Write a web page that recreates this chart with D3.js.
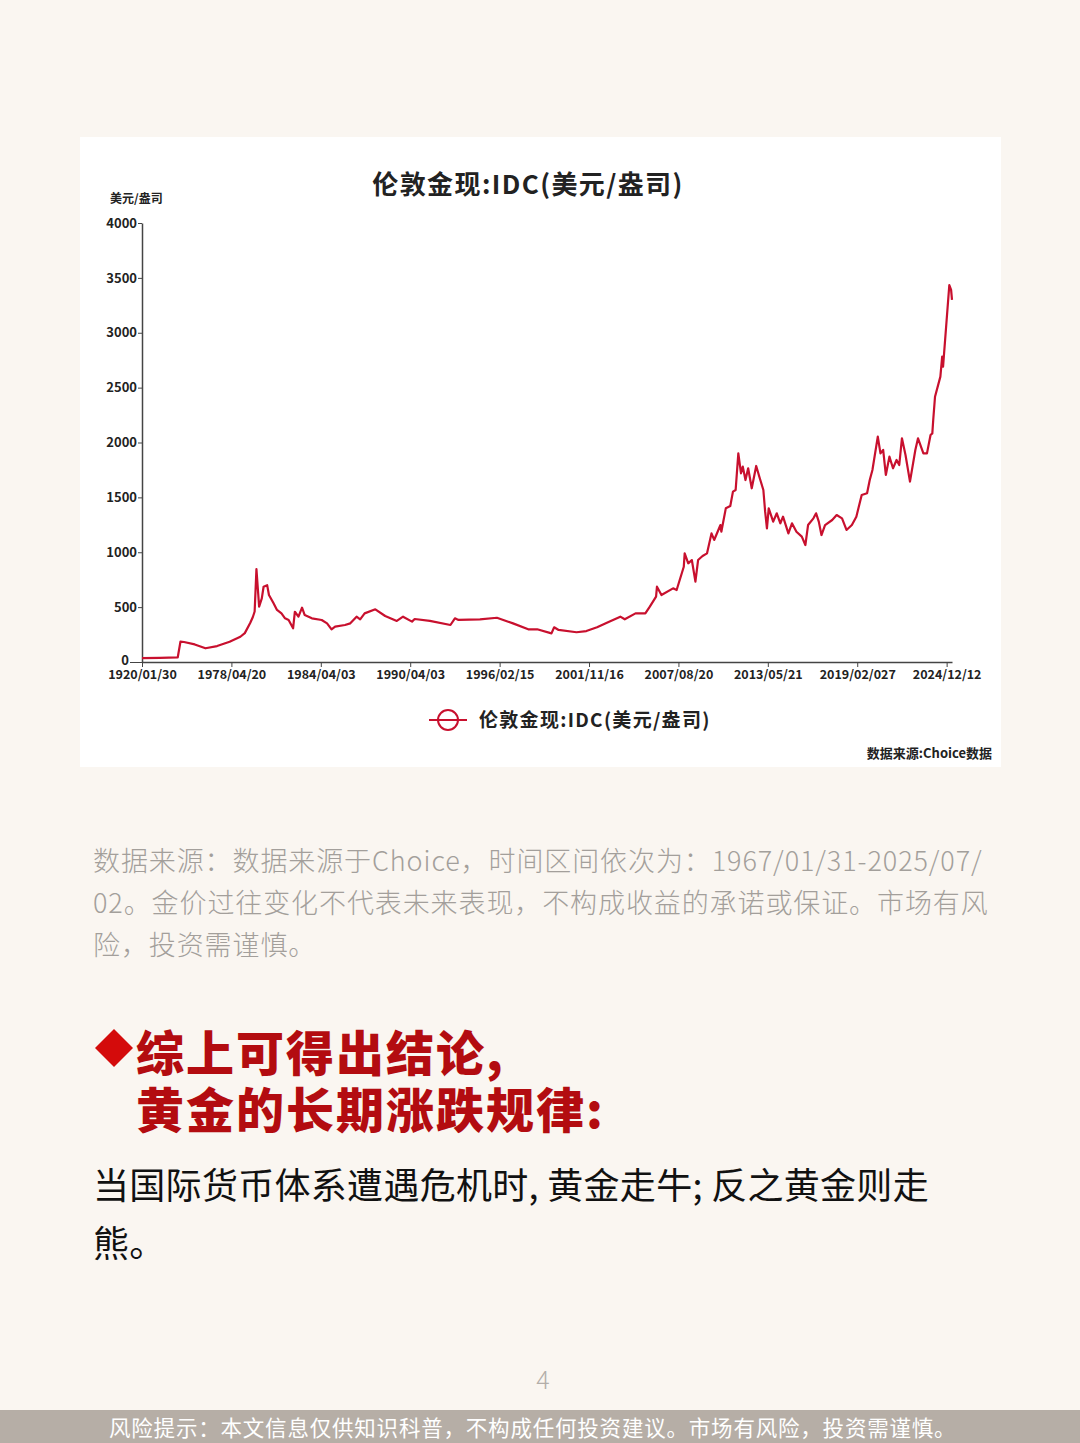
<!DOCTYPE html>
<html>
<head>
<meta charset="utf-8">
<script src="https://cdn.jsdelivr.net/npm/d3@7"></script>
<style>
  html, body { margin: 0; padding: 0; background: #faf6f1; }
  svg { display: block; font-family: "Noto Sans CJK SC", "Noto Sans", sans-serif; }
</style>
</head>
<body>
<div id="chart"></div>
<script>
// 伦敦金现 IDC 走势 — 横轴按数据序号等距排列
const tickIdx = [0, 100, 200, 300, 400, 500, 600, 700, 800, 900];
const tickLabels = ["1920/01/30", "1978/04/20", "1984/04/03", "1990/04/03", "1996/02/15",
  "2001/11/16", "2007/08/20", "2013/05/21", "2019/02/027", "2024/12/12"];
const yTicks = [0, 500, 1000, 1500, 2000, 2500, 3000, 3500, 4000];

// 序号（数据点位置）与价格（美元/盎司）
const idx = [0, 20, 40, 43, 47, 59, 71, 84, 98, 110, 115, 121, 124, 126, 128, 130, 131, 134, 136, 140,
  142, 147, 151, 156, 160, 164, 169, 171, 175, 179, 182, 190, 201, 207, 212, 216, 227, 233, 240, 244,
  249, 261, 272, 285, 292, 302, 305, 322, 345, 350, 354, 378, 397, 415, 432, 442, 458, 461, 466, 486,
  497, 509, 520, 535, 540, 552, 563, 568, 575, 576, 581, 594, 598, 606, 607, 611, 615, 619, 622, 627,
  632, 637, 640, 647, 648, 653, 658, 661, 664, 667, 670, 672, 675, 678, 682, 687, 691, 695, 697, 699,
  701, 706, 710, 714, 717, 723, 727, 732, 738, 742, 745, 751, 754, 757, 760, 764, 772, 777, 783, 788,
  794, 799, 805, 811, 814, 817, 823, 826, 829, 832, 836, 840, 844, 847, 850, 854, 859, 865, 868, 874,
  878, 882, 884, 885, 887, 893, 895, 896, 900, 903, 905, 906];
const price = [35, 38, 43, 185, 182, 160, 125, 145, 185, 230, 263, 355, 410, 460, 847, 620, 504, 580, 686, 700,
  610, 537, 474, 443, 398, 383, 307, 458, 413, 495, 428, 398, 383, 352, 298, 322, 337, 352, 413, 389,
  443, 480, 419, 374, 413, 368, 392, 374, 337, 398, 383, 389, 403, 352, 298, 298, 261, 316, 292, 271,
  282, 316, 358, 413, 389, 443, 443, 504, 595, 686, 610, 671, 656, 868, 990, 899, 929, 732, 929, 966,
  990, 1172, 1112, 1248, 1187, 1400, 1421, 1552, 1567, 1901, 1719, 1780, 1658, 1765, 1583, 1786, 1674, 1567, 1370, 1218,
  1400, 1279, 1355, 1264, 1324, 1172, 1264, 1187, 1142, 1066, 1248, 1309, 1355, 1279, 1157, 1248, 1294, 1339, 1309, 1203,
  1248, 1324, 1522, 1537, 1658, 1749, 2053, 1901, 1932, 1704, 1871, 1765, 1841, 1795, 2038, 1886, 1643, 1932, 2038, 1901,
  1901, 2068, 2083, 2205, 2417, 2600, 2782, 2691, 3116, 3435, 3390, 3300];

const seriesName = "伦敦金现:IDC(美元/盎司)";
const noteLines = [
  "数据来源：数据来源于Choice，时间区间依次为：1967/01/31-2025/07/",
  "02。金价过往变化不代表未来表现，不构成收益的承诺或保证。市场有风",
  "险，投资需谨慎。"
];
const headLines = ["综上可得出结论,", "黄金的长期涨跌规律:"];
const bodyLines = ["当国际货币体系遭遇危机时, 黄金走牛; 反之黄金则走", "熊。"];
const footerText = "风险提示：本文信息仅供知识科普，不构成任何投资建议。市场有风险，投资需谨慎。";

const W = 1080, H = 1443;
const red = "#c8102e";
const ink = "#222";

const svg = d3.select("#chart").append("svg").attr("width", W).attr("height", H);
svg.append("rect").attr("width", W).attr("height", H).attr("fill", "#faf6f1");

// 白色卡片
svg.append("rect").attr("x", 80).attr("y", 137).attr("width", 921).attr("height", 630).attr("fill", "#fff");

// 标题
svg.append("text").attr("x", 528).attr("y", 194).attr("text-anchor", "middle")
  .style("font-size", "26px").style("font-weight", "700").style("letter-spacing", "1.4px")
  .style("fill", ink).text(seriesName);

svg.append("text").attr("x", 110).attr("y", 203)
  .style("font-size", "12px").style("font-weight", "700").style("fill", ink).text("美元/盎司");

// 比例尺
const x = d3.scaleLinear().domain([0, 906]).range([142, 952]);
const y = d3.scaleLinear().domain([0, 4000]).range([662, 223]);

// y 轴
const gy = svg.append("g").attr("transform", "translate(142,0)")
  .call(d3.axisLeft(y).tickValues(yTicks).tickFormat(d3.format("d")).tickSize(4).tickPadding(1).tickSizeOuter(0));
gy.select(".domain").attr("stroke", "#444").attr("stroke-width", 1.5);
gy.selectAll(".tick line").attr("stroke", "#444");
gy.selectAll(".tick text").style("font-size", "13px").style("font-weight", "700").style("fill", ink)
  .style("font-family", "'Noto Sans CJK SC', sans-serif");
gy.selectAll(".tick").filter(d => d === 0).select("line").attr("x2", -12);
gy.selectAll(".tick").filter(d => d === 0).select("text").attr("x", -13).attr("dy", "0.2em");

// x 轴
const gx = svg.append("g").attr("transform", "translate(0,662)")
  .call(d3.axisBottom(x).tickValues(tickIdx).tickFormat((d, i) => tickLabels[i]).tickSize(5).tickPadding(3).tickSizeOuter(0));
gx.select(".domain").attr("stroke", "#444").attr("stroke-width", 1.5);
gx.selectAll(".tick line").attr("stroke", "#444");
gx.selectAll(".tick text").style("font-size", "12.5px").style("font-weight", "700").style("fill", ink)
  .style("font-family", "'Noto Sans CJK SC', sans-serif");

// 价格线
const pts = idx.map((d, i) => [d, price[i]]);
svg.append("path").datum(pts)
  .attr("fill", "none").attr("stroke", red).attr("stroke-width", 2.2).attr("stroke-linejoin", "round")
  .attr("d", d3.line().x(d => x(d[0])).y(d => y(d[1])));

// 图例
svg.append("line").attr("x1", 429).attr("x2", 467).attr("y1", 720).attr("y2", 720).attr("stroke", red).attr("stroke-width", 2);
svg.append("circle").attr("cx", 448).attr("cy", 720).attr("r", 10).attr("fill", "none").attr("stroke", red).attr("stroke-width", 2);
svg.append("text").attr("x", 479).attr("y", 727)
  .style("font-size", "19px").style("font-weight", "700").style("letter-spacing", "1.3px")
  .style("fill", ink).text(seriesName);

svg.append("text").attr("x", 992).attr("y", 758).attr("text-anchor", "end")
  .style("font-size", "13px").style("font-weight", "700").style("fill", ink).text("数据来源:Choice数据");

// 说明文字
svg.append("g").selectAll("text").data(noteLines).join("text")
  .attr("x", 93).attr("y", (d, i) => 871 + i * 42)
  .style("font-size", "27px").style("font-weight", "300").style("letter-spacing", "0.9px")
  .style("fill", "#a39f9b").text(d => d);

// 结论标题
svg.append("path").attr("d", "M114,1029 L133,1048 L114,1067 L95,1048 Z").attr("fill", "#d40b0b");
svg.append("g").selectAll("text").data(headLines).join("text")
  .attr("x", 136).attr("y", (d, i) => 1071 + i * 57)
  .style("font-size", "48px").style("font-weight", "900").style("letter-spacing", "2px")
  .style("fill", "#b30c10").text(d => d);

svg.append("g").selectAll("text").data(bodyLines).join("text")
  .attr("x", 93).attr("y", (d, i) => 1199 + i * 58)
  .style("font-size", "36px").style("font-weight", "400").style("letter-spacing", "0.3px")
  .style("fill", "#111").text(d => d);

// 页码
svg.append("text").attr("x", 543).attr("y", 1389).attr("text-anchor", "middle")
  .style("font-size", "25px").style("font-weight", "300").style("fill", "#b3aea9").text("4");

// 底部风险提示
svg.append("rect").attr("x", 0).attr("y", 1410).attr("width", W).attr("height", 33).attr("fill", "#b6aea6");
svg.append("text").attr("x", 109).attr("y", 1436)
  .style("font-size", "21.5px").style("font-weight", "400").style("letter-spacing", "0.8px")
  .style("fill", "#fff").text(footerText);
</script>
</body>
</html>
